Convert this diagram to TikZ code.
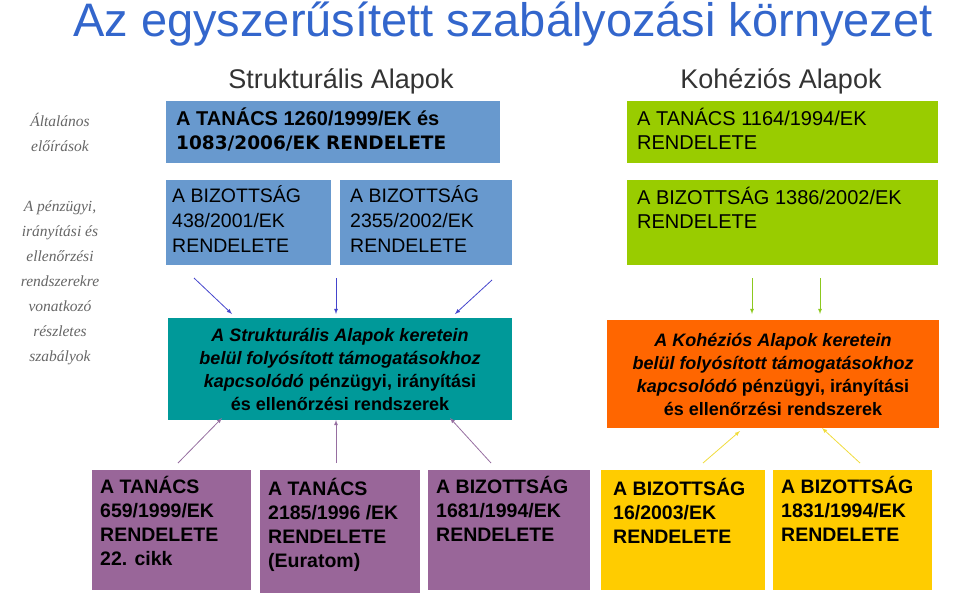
\documentclass[tikz,border=0pt]{standalone}
\usepackage{fontspec}
\setmainfont{Liberation Sans}
\newfontfamily\serifit{Liberation Serif}
\newfontfamily\dejavu{DejaVu Sans}
\begin{document}
\begin{tikzpicture}[x=1pt,y=-1pt,
  bx/.style={anchor=north west,inner sep=0pt,outer sep=0pt},
  lbl/.style={anchor=north west,inner sep=0pt,align=left,font=\bfseries\fontsize{20}{24}\selectfont},
  clbl/.style={inner sep=0pt,align=center,font=\bfseries\itshape\fontsize{18}{23}\selectfont},
  side/.style={inner sep=0pt,align=center,text=black!60,font=\serifit\itshape\fontsize{15.5}{25}\selectfont},
  arr/.style={->,>=latex,line width=0.8pt}]
\useasboundingbox (0,0) rectangle (960,598);
\definecolor{sblue}{RGB}{104,153,206}
\definecolor{sgreen}{RGB}{153,204,0}
\definecolor{steal}{RGB}{0,153,153}
\definecolor{sorange}{RGB}{255,102,0}
\definecolor{spurple}{RGB}{153,102,153}
\definecolor{syellow}{RGB}{255,204,0}
\definecolor{stitle}{RGB}{51,102,204}
\definecolor{aviolet}{RGB}{68,68,204}
\definecolor{apurple}{RGB}{150,110,160}
\definecolor{agreen}{RGB}{140,200,30}
\definecolor{ayellow}{RGB}{240,220,60}
\node[inner sep=0pt,text=stitle,font=\fontsize{47}{50}\selectfont] (title) at (503,24) {Az egyszerűsített szabályozási környezet};
\node[inner sep=0pt,font=\fontsize{27}{30}\selectfont,text=black!80] (hsa) at (341,81) {Strukturális Alapok};
\node[inner sep=0pt,font=\fontsize{27}{30}\selectfont,text=black!80] (hka) at (781,81) {Kohéziós Alapok};
\node[side] (s1) at (60,132) {Általános\\előírások};
\node[side] (s2) at (60,283) {A pénzügyi,\\irányítási és\\ellenőrzési\\rendszerekre\\vonatkozó\\részletes\\szabályok};
% boxes
\fill[sblue] (166,101) rectangle (500,163);
\node[lbl] (b1) at (176,108) {A TANÁCS 1260/1999/EK és\\{\dejavu\fontsize{18.5}{24}\selectfont 1083/2006/EK RENDELETE}};
\fill[sgreen] (627,101) rectangle (938,163);
\node[lbl,font=\fontsize{20}{24}\selectfont] (b2) at (637,108) {A TANÁCS 1164/1994/EK\\RENDELETE};
\fill[sblue] (166,180) rectangle (331,265);
\node[lbl,font=\fontsize{19.5}{25}\selectfont] (b3) at (172,185) {A BIZOTTSÁG\\438/2001/EK\\RENDELETE};
\fill[sblue] (340,180) rectangle (512,265);
\node[lbl,font=\fontsize{19.5}{25}\selectfont] (b4) at (350,185) {A BIZOTTSÁG\\2355/2002/EK\\RENDELETE};
\fill[sgreen] (627,180) rectangle (938,265);
\node[lbl,font=\fontsize{20}{24}\selectfont] (b5) at (637,187) {A BIZOTTSÁG 1386/2002/EK\\RENDELETE};
\fill[steal] (168,318) rectangle (512,420);
\node[clbl] (sa) at (340,369) {A Strukturális Alapok keretein\\belül folyósított támogatásokhoz\\kapcsolódó {\upshape pénzügyi, irányítási}\\{\upshape és ellenőrzési rendszerek}};
\fill[sorange] (607,320) rectangle (939,428);
\node[clbl] (ka) at (773,374) {A Kohéziós Alapok keretein\\belül folyósított támogatásokhoz\\kapcsolódó {\upshape pénzügyi, irányítási}\\{\upshape és ellenőrzési rendszerek}};
\tikzset{bot/.style={lbl,font=\bfseries\fontsize{19.5}{24}\selectfont}}
\fill[spurple] (92,470) rectangle (251,590);
\node[bot] (p1) at (100,476) {A TANÁCS\\659/1999/EK\\RENDELETE\\22. cikk};
\fill[spurple] (260,470) rectangle (420,593);
\node[bot] (p2) at (268,478) {A TANÁCS\\2185/1996 /EK\\RENDELETE\\(Euratom)};
\fill[spurple] (428,470) rectangle (590,590);
\node[bot] (p3) at (436,476) {A BIZOTTSÁG\\1681/1994/EK\\RENDELETE};
\fill[syellow] (601,470) rectangle (765,590);
\node[bot] (y1) at (613,478) {A BIZOTTSÁG\\16/2003/EK\\RENDELETE};
\fill[syellow] (773,470) rectangle (932,590);
\node[bot] (y2) at (781,476) {A BIZOTTSÁG\\1831/1994/EK\\RENDELETE};
% arrows
\foreach \n/\a/\b/\c/\d/\col in {a1/194/278/232/314/aviolet, a2/336/278/336/314/aviolet, a3/492/280/455/314/aviolet,
  a4/752/278/752/314/agreen, a5/820/278/820/314/agreen,
  a6/178/463/222/418/apurple, a7/336/463/336/420/apurple, a8/491/463/450/418/apurple,
  a9/703/463/740/431/ayellow, a10/860/463/822/428/ayellow}{
  \coordinate (\n s) at (\a,\b); \coordinate (\n e) at (\c,\d);
  \draw[arr,\col] (\n s) -- (\n e);}
\end{tikzpicture}
\end{document}
